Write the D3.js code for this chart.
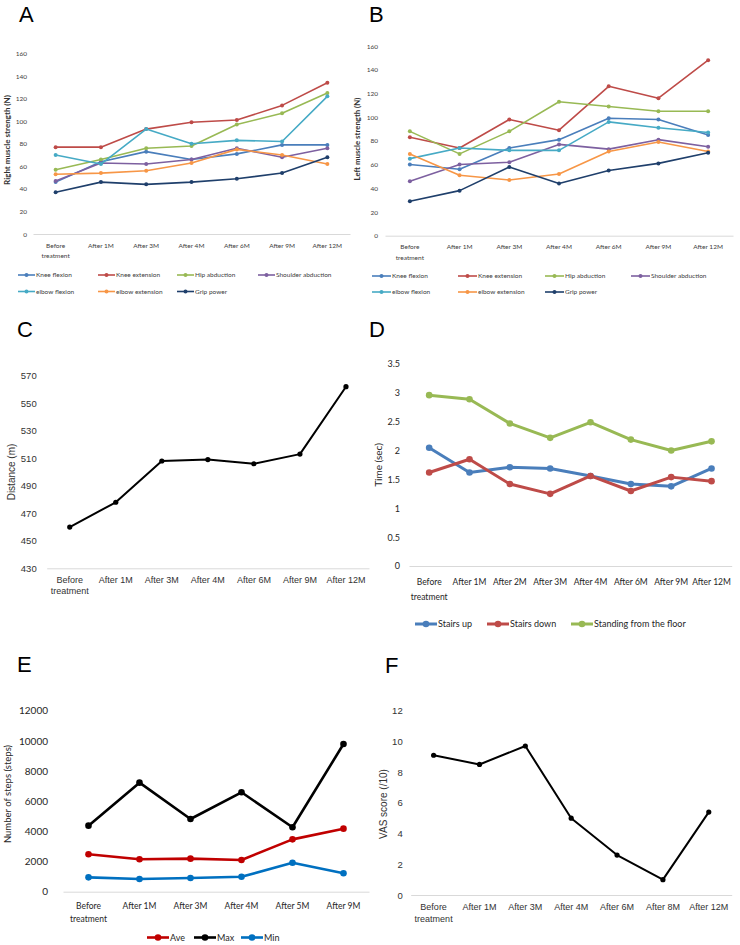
<!DOCTYPE html>
<meta charset="utf-8">
<style>
body { margin: 0; background: #fff; }
svg { display: block; }
.axis .domain { stroke: #d9d9d9; stroke-width: 1px; }
.axis line { display: none; }
.plabel { font: 22px "Liberation Sans", Arial, sans-serif; fill: #000; }
</style>
<body>
<div id="main"></div>
<script src="https://d3js.org/d3.v7.min.js"></script>
<script>
// ---- data ----
var muscleCats = ["Before|treatment", "After 1M", "After 3M", "After 4M", "After 6M", "After 9M", "After 12M"];
var muscleNames = ["Knee flexion", "Knee extension", "Hip abduction", "Shoulder abduction", "elbow flexion", "elbow extension", "Grip power"];
var muscleColors = ["#4a7ebb", "#be4b48", "#98b954", "#7d60a0", "#46aac5", "#f79646", "#1f3f6b"];

// right side (N)
var rightKneeFlexion = [46, 64, 73, 66, 71, 79, 79];
var rightKneeExtension = [77, 77, 93, 99, 101, 114, 134];
var rightHipAbduction = [57, 66, 76, 78, 97, 107, 125];
var rightShoulderAbduction = [47, 63, 62, 66, 76, 68, 76];
var rightElbowFlexion = [70, 62, 93, 80, 83, 82, 122];
var rightElbowExtension = [53, 54, 56, 63, 75, 70, 62];
var rightGripPower = [37, 46, 44, 46, 49, 54, 68];

// left side (N)
var leftKneeFlexion = [60, 56, 74, 81, 99, 98, 85];
var leftKneeExtension = [83, 74, 98, 89, 126, 116, 148];
var leftHipAbduction = [88, 69, 88, 113, 109, 105, 105];
var leftShoulderAbduction = [46, 60, 62, 77, 73, 81, 75];
var leftElbowFlexion = [65, 74, 72, 72, 96, 91, 87];
var leftElbowExtension = [69, 51, 47, 52, 71, 79, 71];
var leftGripPower = [29, 38, 58, 44, 55, 61, 70];

// 6 minute walk distance (m)
var walkCats = ["Before|treatment", "After 1M", "After 3M", "After 4M", "After 6M", "After 9M", "After 12M"];
var walkDistance = [460, 478, 508, 509, 506, 513, 562];

// timed tests (sec)
var timeCats = ["Before|treatment", "After 1M", "After 2M", "After 3M", "After 4M", "After 6M", "After 9M", "After 12M"];
var stairsUp = [2.05, 1.62, 1.71, 1.69, 1.56, 1.42, 1.38, 1.69];
var stairsDown = [1.62, 1.85, 1.42, 1.25, 1.56, 1.30, 1.54, 1.47];
var standingFloor = [2.96, 2.89, 2.47, 2.22, 2.49, 2.19, 2.00, 2.16];

// steps
var stepCats = ["Before|treatment", "After 1M", "After 3M", "After 4M", "After 5M", "After 9M"];
var stepsAve = [2480, 2150, 2190, 2100, 3470, 4180];
var stepsMax = [4380, 7230, 4820, 6590, 4270, 9790];
var stepsMin = [950, 840, 910, 990, 1920, 1220];

// VAS score
var vasCats = ["Before|treatment", "After 1M", "After 3M", "After 4M", "After 6M", "After 8M", "After 12M"];
var vasScore = [9.1, 8.5, 9.7, 5.0, 2.6, 1.0, 5.4];

var svg = d3.select("#main").append("svg").attr("width", 740).attr("height", 945);

var calibri = "Lato, 'Open Sans', sans-serif";
var arial = "'Liberation Sans', Arial, sans-serif";

// draws one line chart panel
function drawPanel(p) {
	var g = svg.append("g");
	var x = d3.scaleBand().domain(p.cats).range([p.x0, p.x1]);
	var y = d3.scaleLinear().domain(p.domain).range([p.yBottom, p.yTop]);

	// y tick labels
	var ya = g.append("g").attr("class", "axis")
		.attr("transform", "translate(" + p.x0 + ",0)")
		.call(d3.axisLeft(y).tickValues(p.ticks).tickSize(0).tickPadding(p.tickPad)
			.tickFormat(function(d) { return String(d); }));
	ya.select(".domain").remove();
	ya.selectAll("text").style("font-family", p.font).style("font-size", p.tickSize + "px").attr("fill", p.tickColor || "#404040");

	// bottom line + two line category labels
	var xa = g.append("g").attr("class", "axis")
		.attr("transform", "translate(0," + p.yBottom + ")")
		.call(d3.axisBottom(x).tickSize(0).tickFormat(""));
	xa.selectAll(".tick").each(function(d) {
		var parts = d.split("|");
		var t = d3.select(this).append("text")
			.attr("text-anchor", "middle")
			.attr("fill", p.tickColor || "#404040")
			.style("font-family", p.font)
			.style("font-size", p.catSize + "px");
		parts.forEach(function(s, i) {
			t.append("tspan").attr("x", 0).attr("y", p.catDy + i * p.catLine).text(s);
		});
	});

	// axis title
	g.append("text")
		.attr("transform", "translate(" + p.titleX + "," + p.titleY + ") rotate(-90)")
		.attr("text-anchor", "middle")
		.attr("fill", p.titleColor || "#404040")
		.style("font-family", p.font)
		.style("font-size", p.titleSize + "px")
		.style("font-weight", p.titleWeight || "normal")
		.text(p.title);

	var line = d3.line()
		.x(function(d, i) { return x(p.cats[i]) + x.bandwidth() / 2; })
		.y(function(d) { return y(d); });

	p.series.forEach(function(s) {
		g.append("path")
			.datum(s.values)
			.attr("fill", "none")
			.attr("stroke", s.color)
			.attr("stroke-width", p.lineWidth)
			.attr("stroke-linejoin", "round")
			.attr("d", line);
		g.selectAll(null)
			.data(s.values)
			.enter().append("circle")
			.attr("cx", function(d, i) { return x(p.cats[i]) + x.bandwidth() / 2; })
			.attr("cy", function(d) { return y(d); })
			.attr("r", p.r)
			.attr("fill", s.color);
	});

	// legend
	if (p.legend) {
		p.series.forEach(function(s, i) {
			var pos = p.legend[i];
			var lg = g.append("g").attr("transform", "translate(" + pos[0] + "," + pos[1] + ")");
			lg.append("line").attr("x1", 0).attr("x2", p.legLen).attr("y1", 0).attr("y2", 0)
				.attr("stroke", s.color).attr("stroke-width", p.lineWidth);
			lg.append("circle").attr("cx", p.legLen / 2).attr("cy", 0).attr("r", p.r).attr("fill", s.color);
			lg.append("text").attr("x", p.legLen + 1).attr("y", p.legSize * 0.35)
				.attr("fill", p.tickColor || "#404040")
				.style("font-family", p.font).style("font-size", p.legSize + "px")
				.text(s.name);
		});
	}

	svg.append("text").attr("class", "plabel").attr("x", p.labX).attr("y", p.labY).text(p.label);
}

function mk(names, colors, vals) {
	return vals.map(function(v, i) { return { name: names[i], color: colors[i], values: v }; });
}

var strengthTicks = d3.range(0, 161, 20);

drawPanel({
	label: "A", labX: 19, labY: 22,
	cats: muscleCats, x0: 33, x1: 350, yTop: 53.5, yBottom: 234, domain: [0, 160], ticks: strengthTicks,
	font: calibri, tickSize: 6.5, tickPad: 6, catSize: 6.5, catDy: 13.5, catLine: 10.5,
	title: "Right muscle strength (N)", titleX: 10, titleY: 140, titleSize: 8, titleWeight: "bold", titleColor: "#303030",
	lineWidth: 1.6, r: 2,
	series: mk(muscleNames, muscleColors, [rightKneeFlexion, rightKneeExtension, rightHipAbduction, rightShoulderAbduction, rightElbowFlexion, rightElbowExtension, rightGripPower]),
	legLen: 17, legSize: 6.5,
	legend: [[18, 275], [98, 275], [177, 275], [258, 275], [18, 291.5], [98, 291.5], [177, 291.5]]
});

drawPanel({
	label: "B", labX: 369, labY: 22,
	cats: muscleCats, x0: 385, x1: 733, yTop: 46, yBottom: 235.7, domain: [0, 160], ticks: strengthTicks,
	font: calibri, tickSize: 6.5, tickPad: 7, catSize: 6.5, catDy: 13.5, catLine: 10.5,
	title: "Left muscle strength (N)", titleX: 360, titleY: 139, titleSize: 7.8, titleWeight: "bold", titleColor: "#303030",
	lineWidth: 1.6, r: 2,
	series: mk(muscleNames, muscleColors, [leftKneeFlexion, leftKneeExtension, leftHipAbduction, leftShoulderAbduction, leftElbowFlexion, leftElbowExtension, leftGripPower]),
	legLen: 19, legSize: 6.5,
	legend: [[372, 276], [458, 276], [545, 276], [631, 276], [372, 292], [458, 292], [545, 292]]
});

drawPanel({
	label: "C", labX: 17, labY: 337,
	cats: walkCats, x0: 46.7, x1: 369, yTop: 375.7, yBottom: 568.3, domain: [430, 570], ticks: d3.range(430, 571, 20),
	font: arial, tickSize: 9.5, tickPad: 10, catSize: 9, catDy: 15, catLine: 11, tickColor: "#333",
	title: "Distance (m)", titleX: 15, titleY: 472, titleSize: 10, titleColor: "#333",
	lineWidth: 2, r: 2.6,
	series: [{ name: "Distance", color: "#000", values: walkDistance }]
});

drawPanel({
	label: "D", labX: 369, labY: 337,
	cats: timeCats, x0: 409, x1: 731.7, yTop: 364, yBottom: 566, domain: [0, 3.5], ticks: d3.range(0, 3.51, 0.5),
	font: calibri, tickSize: 9, tickPad: 9, catSize: 8.5, catDy: 19, catLine: 14.5, tickColor: "#262626",
	title: "Time (sec)", titleX: 382, titleY: 465, titleSize: 10, titleColor: "#262626",
	lineWidth: 3, r: 3.3,
	series: mk(["Stairs up", "Stairs down", "Standing from the floor"], ["#4a7ebb", "#be4b48", "#98b954"], [stairsUp, stairsDown, standingFloor]),
	legLen: 22, legSize: 9,
	legend: [[415, 624], [487, 624], [571, 624]]
});

drawPanel({
	label: "E", labX: 17, labY: 672,
	cats: stepCats, x0: 63, x1: 369, yTop: 710.7, yBottom: 891.7, domain: [0, 12000], ticks: d3.range(0, 12001, 2000),
	font: calibri, tickSize: 10, tickPad: 15, catSize: 8.5, catDy: 17, catLine: 13.5, tickColor: "#262626",
	title: "Number of steps (steps)", titleX: 11, titleY: 794, titleSize: 9.5, titleColor: "#262626",
	lineWidth: 2.6, r: 3.3,
	series: mk(["Ave", "Max", "Min"], ["#c00000", "#000", "#0070c0"], [stepsAve, stepsMax, stepsMin]),
	legLen: 22, legSize: 9,
	legend: [[147, 937.5], [194, 937.5], [241, 937.5]]
});

drawPanel({
	label: "F", labX: 385, labY: 673,
	cats: vasCats, x0: 410.7, x1: 731.7, yTop: 710.7, yBottom: 895, domain: [0, 12], ticks: d3.range(0, 13, 2),
	font: arial, tickSize: 9.5, tickPad: 8, catSize: 9, catDy: 15, catLine: 11.5, tickColor: "#333",
	title: "VAS score (/10)", titleX: 387, titleY: 804, titleSize: 10, titleColor: "#333",
	lineWidth: 2, r: 2.6,
	series: [{ name: "VAS", color: "#000", values: vasScore }]
});
</script>
</body>
